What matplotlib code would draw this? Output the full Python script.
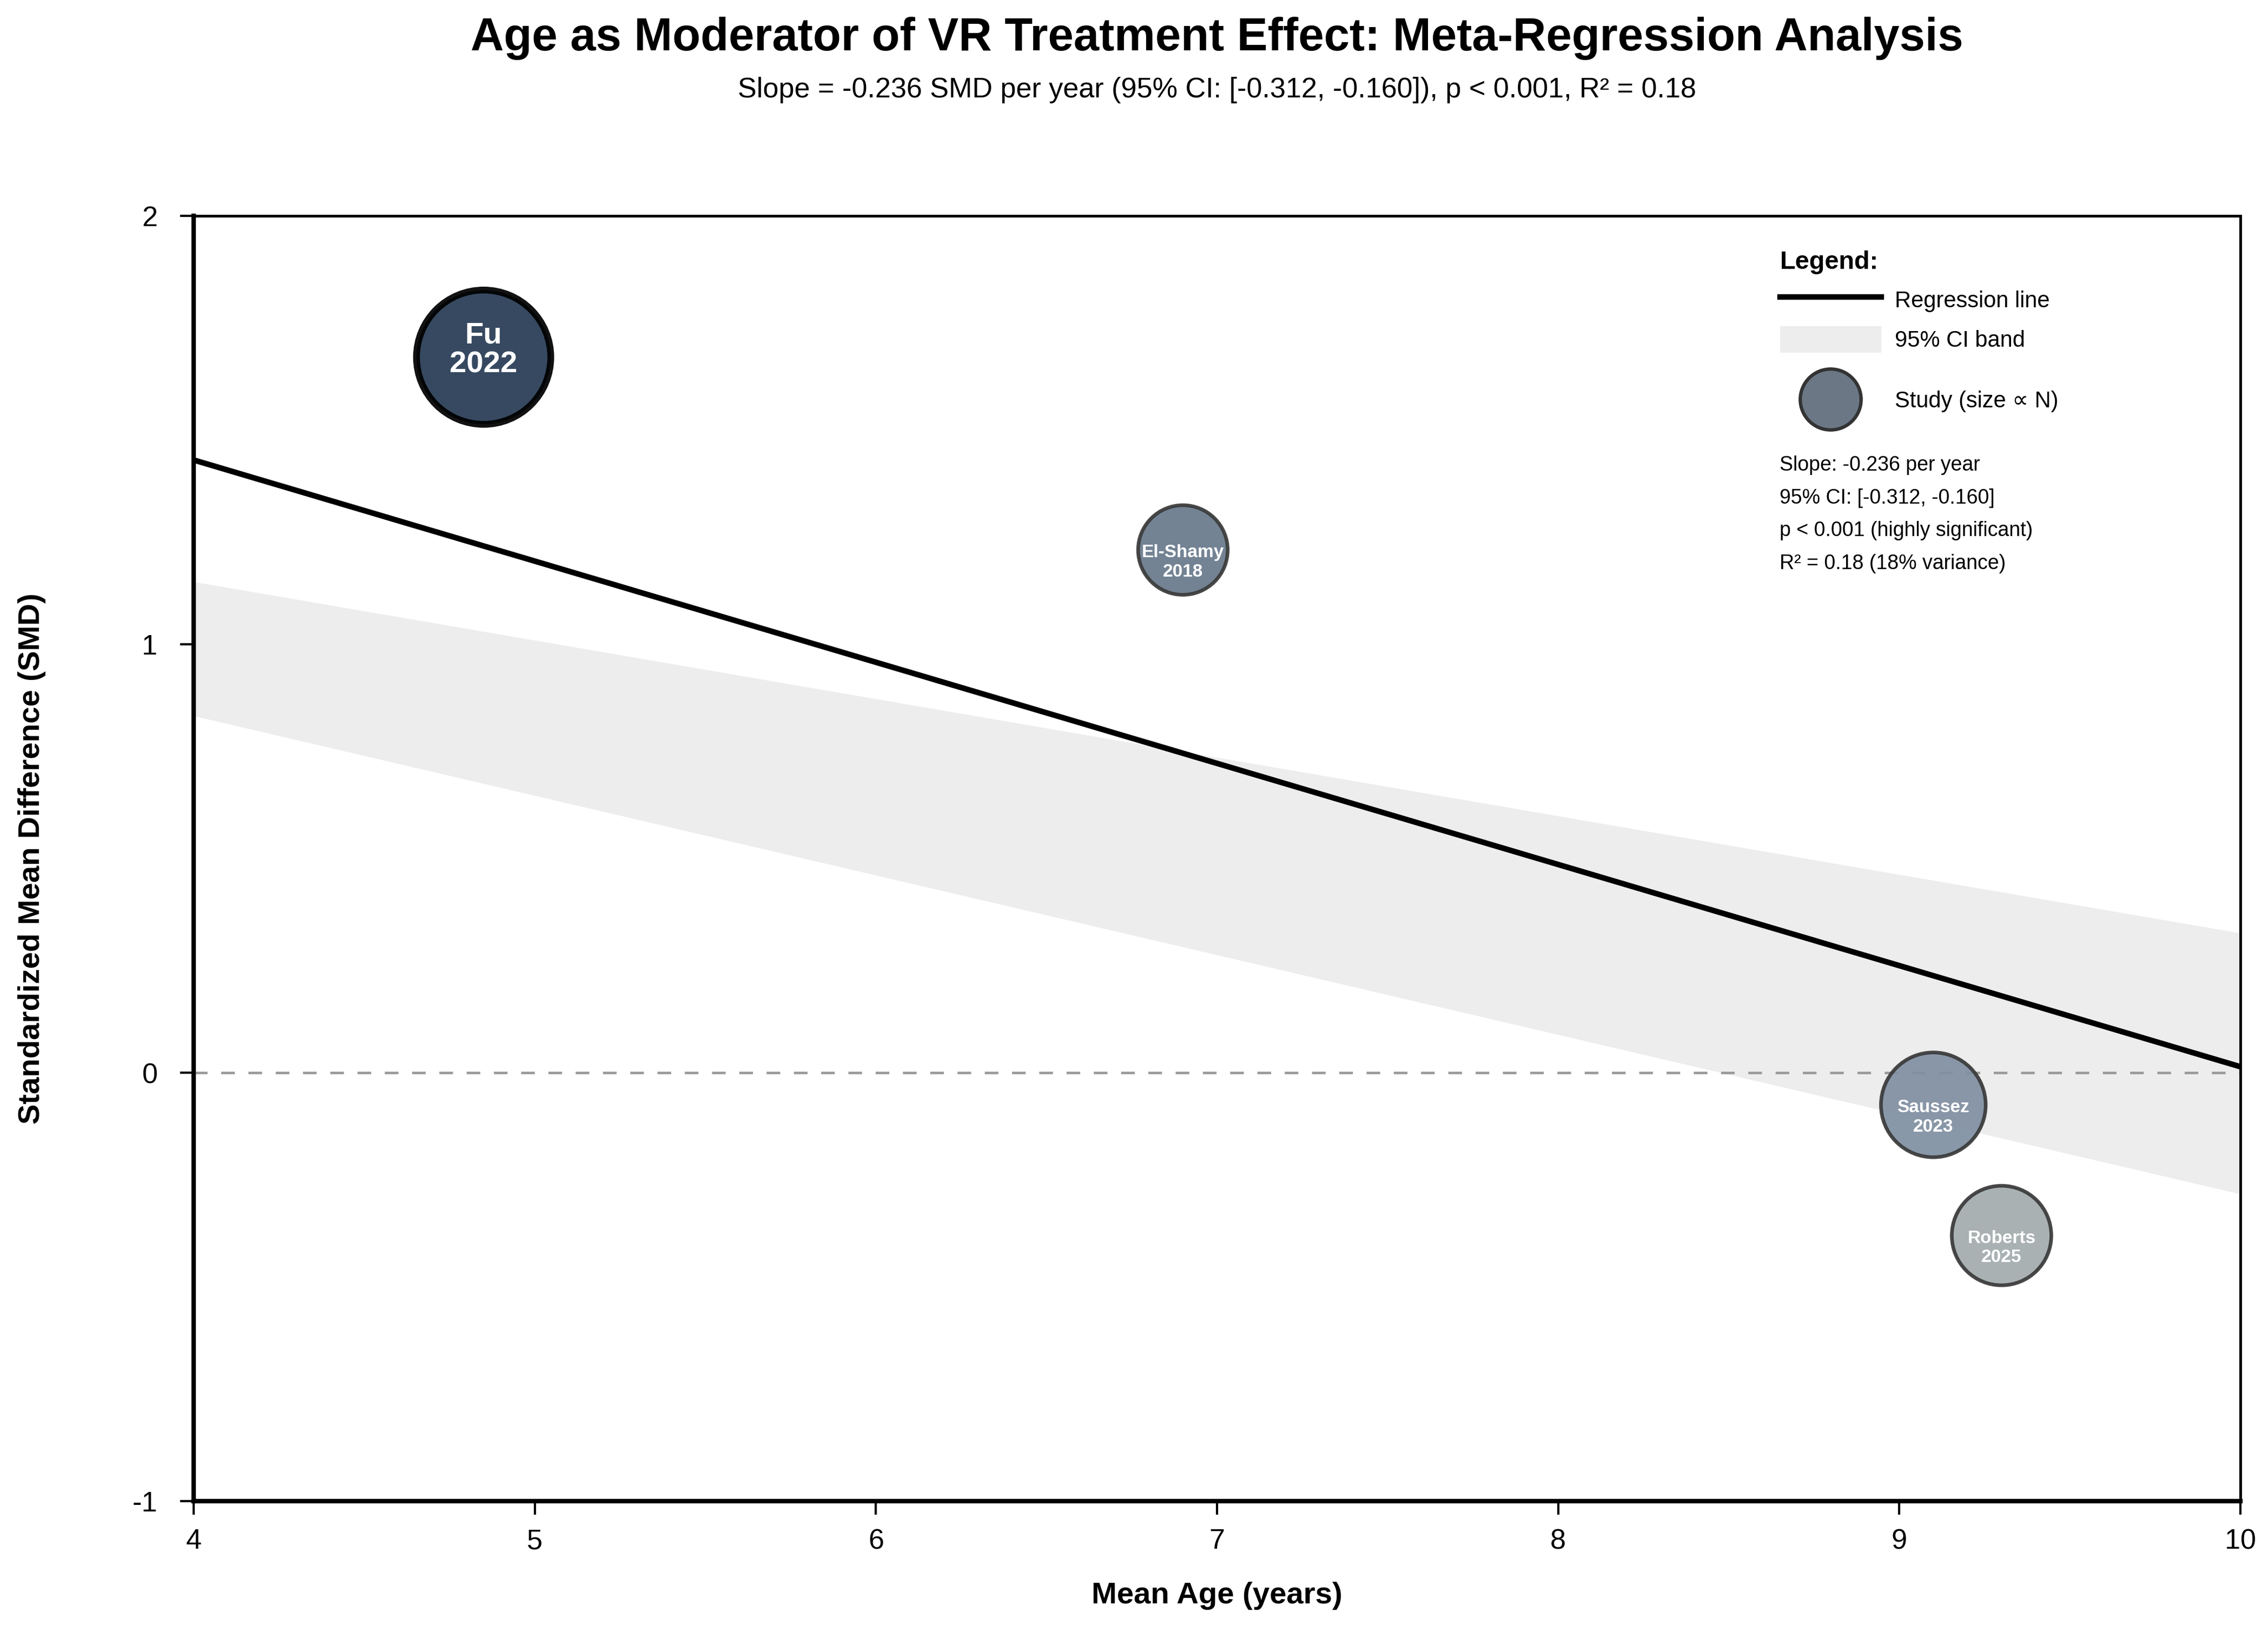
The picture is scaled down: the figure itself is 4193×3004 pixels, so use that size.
"""Age as moderator of VR treatment effect -- meta-regression bubble plot."""
import matplotlib
matplotlib.use("Agg")
import matplotlib.pyplot as plt
from matplotlib.lines import Line2D
from matplotlib.patches import Patch
from matplotlib.legend_handler import HandlerBase

plt.rcParams['font.family'] = ['Liberation Sans', 'DejaVu Sans']
plt.rcParams['axes.unicode_minus'] = False

# study-level values
studies = ['Fu', 'El-Shamy', 'Saussez', 'Roberts']
years = [2022, 2018, 2023, 2025]
mean_age = [4.85, 6.9, 9.1, 9.3]
smd = [1.67, 1.22, -0.075, -0.38]
bubble_area = [3550, 1580, 2160, 1950]      # marker area (pt^2), scales with N
bubble_colors = ['#273b54', '#687a8c', '#8090a2', '#a3abae']

# regression line and 95% CI band at the ends of the age range
fit_age = [4, 10]
fit_smd = [1.43, 0.014]
band_upper = [1.146, 0.326]
band_lower = [0.833, -0.283]

x_ticks = [4, 5, 6, 7, 8, 9, 10]
y_ticks = [-1, 0, 1, 2]

title = 'Age as Moderator of VR Treatment Effect: Meta-Regression Analysis'
subtitle = ('Slope = -0.236 SMD per year (95% CI: [-0.312, -0.160]), '
            'p < 0.001, R² = 0.18')
stats_lines = ['Slope: -0.236 per year',
               '95% CI: [-0.312, -0.160]',
               'p < 0.001 (highly significant)',
               'R² = 0.18 (18% variance)']


class BigMarkerHandler(HandlerBase):
    """Legend handler that gives the big study dot a taller row."""
    def legend_artist(self, legend, orig_handle, fontsize, handlebox):
        handlebox.height = 3.0 * fontsize
        handlebox.ydescent = 1.15 * fontsize
        return super().legend_artist(legend, orig_handle, fontsize, handlebox)

    def create_artists(self, legend, orig_handle, xdescent, ydescent,
                       width, height, fontsize, trans):
        dot = Line2D([width / 2 - xdescent], [height / 2 - ydescent],
                     linestyle='none', marker='o',
                     markersize=orig_handle.get_markersize(),
                     markerfacecolor=orig_handle.get_markerfacecolor(),
                     markeredgecolor=orig_handle.get_markeredgecolor(),
                     markeredgewidth=orig_handle.get_markeredgewidth(),
                     transform=trans)
        return [dot]


fig = plt.figure(figsize=(4193 / 300, 3004 / 300), dpi=300)
ax = fig.add_axes([0.0854, 0.0762, 0.9024, 0.7910])

ax.fill_between(fit_age, band_lower, band_upper, color='#ededed', lw=0, zorder=1)
ax.axhline(0, color='#999999', lw=1.1, dashes=(5.5, 5.5), zorder=2)
reg_line, = ax.plot(fit_age, fit_smd, color='black', lw=2.5, zorder=3)

biggest = max(bubble_area)
edge_cols = ['black' if a == biggest else '#3a3a3a' for a in bubble_area]
edge_lws = [3 if a == biggest else 1.6 for a in bubble_area]
ax.scatter(mean_age, smd, s=bubble_area, c=bubble_colors, edgecolors=edge_cols,
           linewidths=edge_lws, alpha=0.93, zorder=4)

for name, yr, x, y, a in zip(studies, years, mean_age, smd, bubble_area):
    big = a == biggest
    ax.annotate(f'{name}\n{yr}', xy=(x, y), xytext=(0, 3 if big else -5.5),
                textcoords='offset points', ha='center', va='center',
                fontsize=13.5 if big else 8, fontweight='bold', color='white',
                linespacing=1.05 if big else 1.2, zorder=5)

ax.set_xlim(4, 10)
ax.set_ylim(-1, 2)
ax.set_xticks(x_ticks)
ax.set_yticks(y_ticks)
ax.tick_params(axis='both', direction='out', length=6, width=1, labelsize=12.5)
ax.tick_params(axis='x', pad=6)
ax.tick_params(axis='y', pad=10)
for side in ['left', 'bottom']:
    ax.spines[side].set_linewidth(2)
for side in ['top', 'right']:
    ax.spines[side].set_linewidth(1.2)

ax.set_xlabel('Mean Age (years)', fontsize=13.5, fontweight='bold')
ax.set_ylabel('Standardized Mean Difference (SMD)', fontsize=13.5, fontweight='bold')
ax.xaxis.set_label_coords(0.5, -0.0737)
ax.xaxis.label.set_va('center')
ax.yaxis.set_label_coords(-0.079, 0.5)
ax.yaxis.label.set_va('center')

fig.text(0.5366, 0.9764, title, ha='center', va='center', fontsize=20.4, fontweight='bold')
fig.text(0.5366, 0.9447, subtitle, ha='center', va='center', fontsize=12.5)

# legend
band_handle = Patch(facecolor='#ededed', edgecolor='none')
study_handle = Line2D([], [], linestyle='none', marker='o', markersize=27,
                      markerfacecolor='#6b7785', markeredgecolor='#333333',
                      markeredgewidth=1.5)
ax.legend([reg_line, band_handle, study_handle],
          ['Regression line', '95% CI band', 'Study (size ∝ N)'],
          loc='upper left', bbox_to_anchor=(0.7695, 0.982), frameon=False,
          fontsize=10, title='Legend:',
          title_fontproperties={'weight': 'bold', 'size': 11.25},
          alignment='left', handlelength=4.5, handleheight=1.45,
          labelspacing=0.56, handletextpad=0.6, borderpad=0,
          handler_map={study_handle: BigMarkerHandler()})

ax.text(0.775, 0.8137, '\n'.join(stats_lines), transform=ax.transAxes,
        fontsize=9, ha='left', va='top', linespacing=1.89)

plt.savefig('out.png', dpi=300)
